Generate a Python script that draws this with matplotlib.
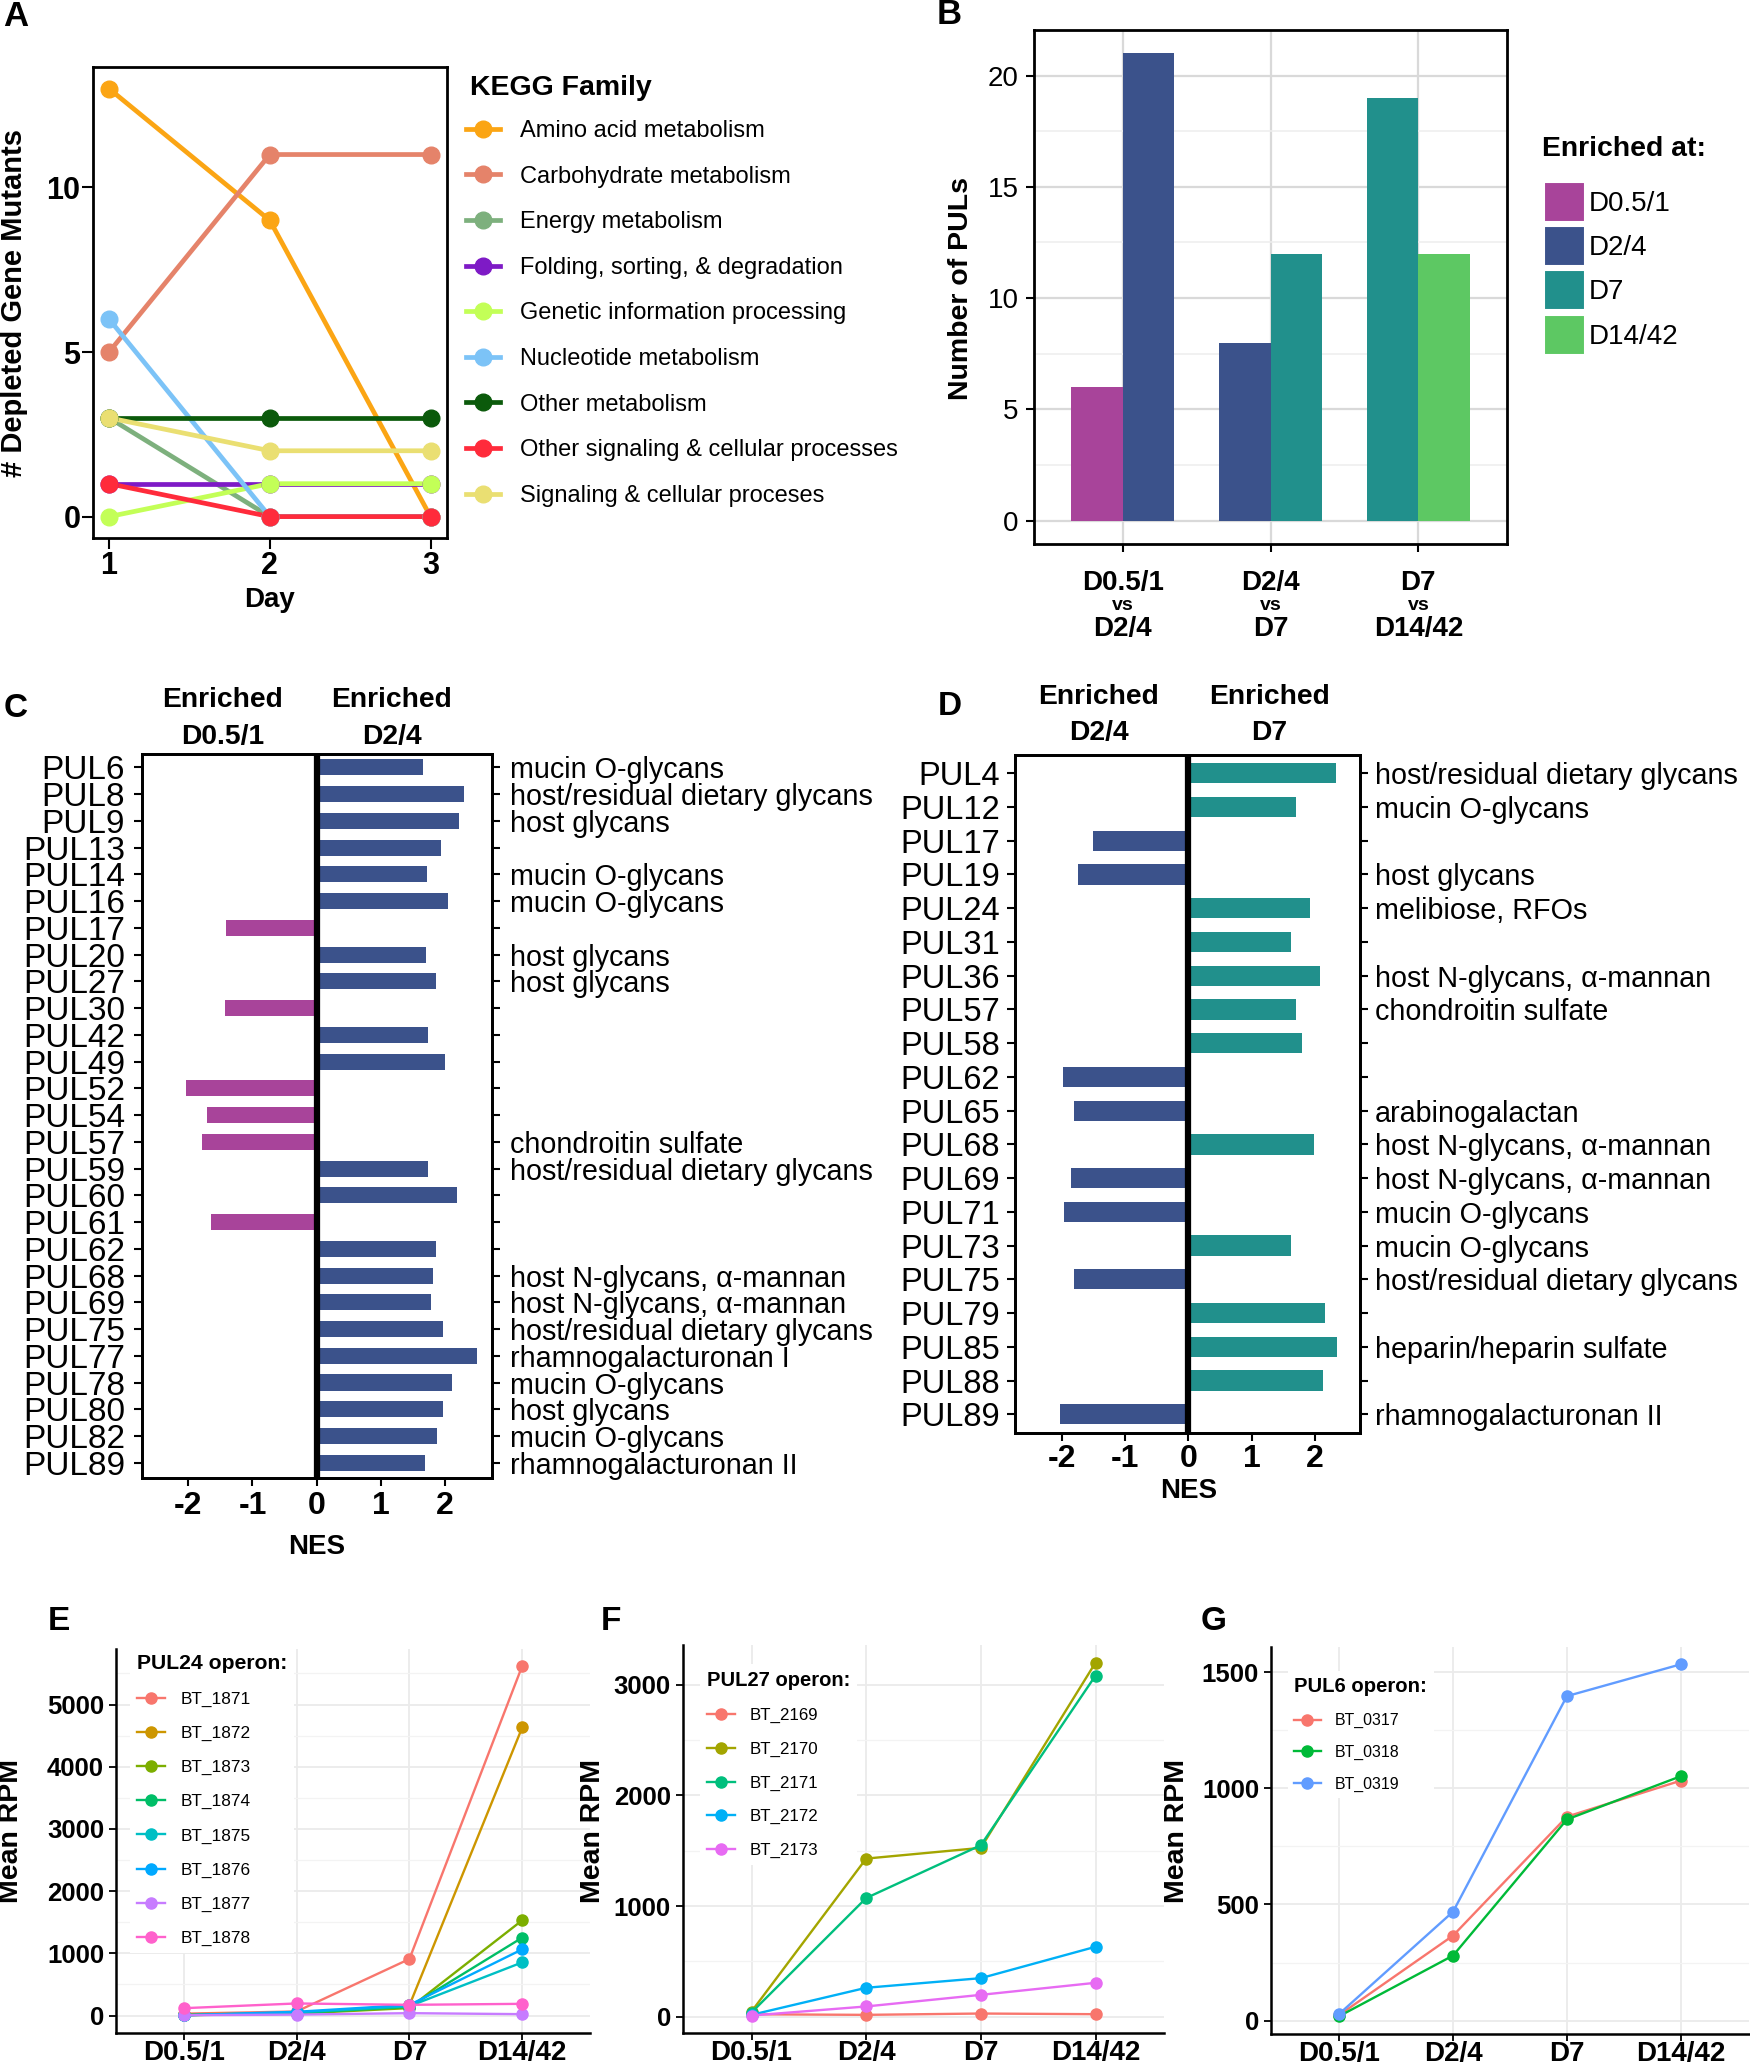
import numpy as np
import matplotlib
matplotlib.use("Agg")
import matplotlib.pyplot as plt
from matplotlib.lines import Line2D
from matplotlib.patches import Patch
from matplotlib.ticker import MultipleLocator

plt.rcParams["font.family"] = ["Liberation Sans", "DejaVu Sans"]
plt.rcParams["axes.unicode_minus"] = False

# ---------------- data ----------------
# A: KEGG families of depleted gene mutants
days = [1, 2, 3]
kegg_families = ["Amino acid metabolism", "Carbohydrate metabolism", "Energy metabolism",
                 "Folding, sorting, & degradation", "Genetic information processing",
                 "Nucleotide metabolism", "Other metabolism",
                 "Other signaling & cellular processes", "Signaling & cellular proceses"]
kegg_counts = [[13, 9, 0], [5, 11, 11], [3, 0, 0], [1, 1, 1], [0, 1, 1],
               [6, 0, 0], [3, 3, 3], [1, 0, 0], [3, 2, 2]]
kegg_colors = ["#FBA514", "#E5836A", "#7DB07D", "#7E1AC6", "#C3FF57",
               "#7CC3F7", "#0B5A0B", "#FF2B3B", "#EADF72"]

# B: number of enriched PULs per comparison
comparisons = [("D0.5/1", "D2/4"), ("D2/4", "D7"), ("D7", "D14/42")]
enriched_groups = ["D0.5/1", "D2/4", "D7", "D14/42"]
group_colors = ["#A8449A", "#3B528B", "#21908C", "#5DC863"]
puls_early = [6, 8, 19]
puls_late = [21, 12, 12]

# C: D0.5/1 vs D2/4
c_puls = ["PUL6", "PUL8", "PUL9", "PUL13", "PUL14", "PUL16", "PUL17", "PUL20", "PUL27",
          "PUL30", "PUL42", "PUL49", "PUL52", "PUL54", "PUL57", "PUL59", "PUL60", "PUL61",
          "PUL62", "PUL68", "PUL69", "PUL75", "PUL77", "PUL78", "PUL80", "PUL82", "PUL89"]
c_nes = [1.66, 2.30, 2.22, 1.94, 1.72, 2.05, -1.41, 1.71, 1.86, -1.43, 1.73, 2.00,
         -2.04, -1.71, -1.79, 1.73, 2.18, -1.64, 1.86, 1.81, 1.78, 1.96, 2.50, 2.11,
         1.97, 1.87, 1.69]
c_glycans = ["mucin O-glycans", "host/residual dietary glycans", "host glycans", "",
             "mucin O-glycans", "mucin O-glycans", "", "host glycans", "host glycans",
             "", "", "", "", "", "chondroitin sulfate", "host/residual dietary glycans",
             "", "", "", "host N-glycans, α-mannan", "host N-glycans, α-mannan",
             "host/residual dietary glycans", "rhamnogalacturonan I", "mucin O-glycans",
             "host glycans", "mucin O-glycans", "rhamnogalacturonan II"]

# D: D2/4 vs D7
d_puls = ["PUL4", "PUL12", "PUL17", "PUL19", "PUL24", "PUL31", "PUL36", "PUL57", "PUL58",
          "PUL62", "PUL65", "PUL68", "PUL69", "PUL71", "PUL73", "PUL75", "PUL79", "PUL85",
          "PUL88", "PUL89"]
d_nes = [2.32, 1.70, -1.51, -1.75, 1.92, 1.62, 2.08, 1.70, 1.79, -1.98, -1.81, 1.98,
         -1.85, -1.96, 1.61, -1.80, 2.16, 2.35, 2.12, -2.02]
d_glycans = ["host/residual dietary glycans", "mucin O-glycans", "", "host glycans",
             "melibiose, RFOs", "", "host N-glycans, α-mannan", "chondroitin sulfate", "",
             "", "arabinogalactan", "host N-glycans, α-mannan", "host N-glycans, α-mannan",
             "mucin O-glycans", "mucin O-glycans", "host/residual dietary glycans", "",
             "heparin/heparin sulfate", "", "rhamnogalacturonan II"]

# E-G: operon expression
timepoints = ["D0.5/1", "D2/4", "D7", "D14/42"]
pul24_genes = ["BT_1871", "BT_1872", "BT_1873", "BT_1874", "BT_1875", "BT_1876", "BT_1877", "BT_1878"]
pul24_rpm = [[30, 65, 909, 5624], [20, 40, 165, 4634], [5, 30, 120, 1532], [5, 40, 140, 1253],
             [5, 50, 150, 855], [5, 60, 170, 1065], [5, 15, 38, 22], [118, 194, 172, 188]]
pul24_colors = ["#F8766D", "#CD9600", "#7CAE00", "#00BE67", "#00BFC4", "#00A9FF", "#C77CFF", "#FF61CC"]

pul27_genes = ["BT_2169", "BT_2170", "BT_2171", "BT_2172", "BT_2173"]
pul27_rpm = [[20, 15, 27, 21], [45, 1429, 1526, 3202], [36, 1072, 1550, 3085],
             [15, 260, 347, 631], [9, 91, 196, 305]]
pul27_colors = ["#F8766D", "#A3A500", "#00BF7D", "#00B0F6", "#E76BF3"]

pul6_genes = ["BT_0317", "BT_0318", "BT_0319"]
pul6_rpm = [[24, 366, 878, 1033], [19, 280, 866, 1052], [29, 469, 1397, 1534]]
pul6_colors = ["#F8766D", "#00BA38", "#619CFF"]

# ---------------- figure ----------------
W, H = 1750, 2067
fig = plt.figure(figsize=(W / 100, H / 100), dpi=100)


def axes_px(left, top, right, bottom):
    return fig.add_axes([left / W, 1 - bottom / H, (right - left) / W, (bottom - top) / H])


def ftext(x, y, s, **kw):
    kw.setdefault("ha", "center")
    kw.setdefault("va", "center")
    return fig.text(x / W, 1 - y / H, s, **kw)


# ---- A ----
axA = axes_px(93, 67.3, 446.6, 538)
for counts, col in zip(kegg_counts, kegg_colors):
    axA.plot(days, counts, color=col, lw=3.4, zorder=2)
for counts, col in zip(kegg_counts, kegg_colors):
    axA.plot(days, counts, ls="none", marker="o", ms=12, color=col, zorder=3)
axA.set_xlim(0.9, 3.1)
axA.set_ylim(-0.65, 13.65)
axA.set_xticks(days)
axA.set_yticks([0, 5, 10])
axA.tick_params(labelsize=22, width=1.5, length=8, pad=1)
for lab in axA.get_xticklabels() + axA.get_yticklabels():
    lab.set_fontweight("bold")
for s in axA.spines.values():
    s.set_linewidth(2)
ftext(14.4, 303, "# Depleted Gene Mutants", rotation=90, fontsize=21, fontweight="bold")
ftext(269.8, 600, "Day", fontsize=20, fontweight="bold")
handlesA = [Line2D([], [], color=c, lw=3.4, marker="o", ms=12) for c in kegg_colors]
axA.legend(handlesA, kegg_families, loc="upper left", bbox_to_anchor=(466 / W, 1 - 120 / H),
           bbox_transform=fig.transFigure, frameon=False, borderpad=0, borderaxespad=0,
           fontsize=17, handlelength=1.44, handletextpad=0.83, labelspacing=1.0)
ftext(469.6, 88, "KEGG Family", fontsize=20.5, fontweight="bold", ha="left")
ftext(16, 17, "A", fontsize=25, fontweight="bold")

# ---- B ----
axB = axes_px(1034, 30, 1507, 544)
xb = np.arange(1, 4)
bw = 0.35
axB.bar(xb - bw / 2, puls_early, bw, color=group_colors[0:3], zorder=2)
axB.bar(xb + bw / 2, puls_late, bw, color=group_colors[1:4], zorder=2)
axB.set_xlim(0.4, 3.6)
axB.set_ylim(-1.05, 22.05)
axB.set_yticks([0, 5, 10, 15, 20])
axB.yaxis.set_minor_locator(MultipleLocator(2.5))
axB.set_xticks(xb)
axB.set_xticklabels([])
axB.grid(which="major", color="#D9D9D9", lw=1.6)
axB.grid(which="minor", axis="y", color="#EDEDED", lw=1.1)
axB.set_axisbelow(True)
axB.tick_params(which="minor", length=0)
axB.tick_params(which="major", labelsize=20, width=1.5, length=6, pad=5)
for s in axB.spines.values():
    s.set_linewidth(2)
for xi, (a, b) in zip(xb, comparisons):
    px = 1034 + (xi - 0.4) / 3.2 * (1507 - 1034)
    ftext(px, 583, a, fontsize=20, fontweight="bold")
    ftext(px, 606, "vs", fontsize=14, fontweight="bold")
    ftext(px, 629, b, fontsize=20, fontweight="bold")
ftext(961, 288, "Number of PULs", rotation=90, fontsize=20.5, fontweight="bold")
handlesB = [Patch(facecolor=c, edgecolor="white", lw=1.5) for c in group_colors]
axB.legend(handlesB, enriched_groups, loc="upper left", bbox_to_anchor=(1544 / W, 1 - 182 / H),
           bbox_transform=fig.transFigure, frameon=False, borderpad=0, borderaxespad=0,
           fontsize=20, handlelength=1.47, handleheight=1.84, handletextpad=0.15,
           labelspacing=0.15)
ftext(1542, 149, "Enriched at:", fontsize=20.4, fontweight="bold", ha="left")
ftext(949, 14, "B", fontsize=25, fontweight="bold")


# ---- C & D ----
def nes_panel(box, puls, nes, glycans, neg_col, pos_col, lims, left_fs, pads):
    ax = axes_px(*box)
    y = np.arange(len(puls))
    cols = [pos_col if v > 0 else neg_col for v in nes]
    ax.barh(y, nes, height=0.6, color=cols, zorder=2)
    ax.axvline(0, color="black", lw=4.5, zorder=3)
    ax.set_xlim(*lims[0])
    ax.set_ylim(*lims[1])
    ax.set_yticks(y, puls)
    ax.set_xticks([-2, -1, 0, 1, 2])
    ax.tick_params(axis="y", labelsize=left_fs, width=1.5, length=6, pad=pads[0])
    ax.tick_params(axis="x", labelsize=23, width=1.5, length=6, pad=pads[2])
    for lab in ax.get_xticklabels():
        lab.set_fontweight("bold")
    axr = ax.twinx()
    axr.set_ylim(*lims[1])
    axr.set_yticks(y, glycans)
    axr.tick_params(axis="y", labelsize=20.7, width=1.5, length=6, pad=pads[1])
    for a in (ax, axr):
        for s in a.spines.values():
            s.set_linewidth(2)
    return ax


nes_panel((142, 753.7, 492, 1478), c_puls, c_nes, c_glycans, group_colors[0], group_colors[1],
          [(-2.72, 2.73), (len(c_puls) - 1 + 0.57, -0.51)], 24, (6.3, 6.8, 3))
ftext(222.7, 700, "Enriched", fontsize=20.3, fontweight="bold")
ftext(391.5, 700, "Enriched", fontsize=20.3, fontweight="bold")
ftext(222.7, 737, "D0.5/1", fontsize=20.3, fontweight="bold")
ftext(391.5, 737, "D2/4", fontsize=20.3, fontweight="bold")
ftext(316.6, 1547, "NES", fontsize=20, fontweight="bold")
ftext(16, 708, "C", fontsize=24, fontweight="bold")

nes_panel((1015.4, 754.7, 1359.6, 1432.7), d_puls, d_nes, d_glycans, group_colors[1], group_colors[2],
          [(-2.73, 2.70), (len(d_puls) - 1 + 0.545, -0.55)], 23.5, (5, 5, 2))
ftext(1098.6, 697, "Enriched", fontsize=20.3, fontweight="bold")
ftext(1269.4, 697, "Enriched", fontsize=20.3, fontweight="bold")
ftext(1098.6, 733, "D2/4", fontsize=20.3, fontweight="bold")
ftext(1269.4, 733, "D7", fontsize=20.3, fontweight="bold")
ftext(1188.4, 1491, "NES", fontsize=20, fontweight="bold")
ftext(949.5, 707, "D", fontsize=24, fontweight="bold")


# ---- E, F, G ----
def rpm_panel(box, genes, rpm, colors, title, ylim, major, leg, fsz):
    ax = axes_px(*box)
    x = np.arange(1, 5)
    for vals, c, g in zip(rpm, colors, genes):
        ax.plot(x, vals, color=c, lw=1.7, marker="o", ms=8, label=g)
    ax.set_xlim(0.4, 4.6)
    ax.set_ylim(*ylim)
    ax.set_xticks(x, timepoints)
    ax.yaxis.set_major_locator(MultipleLocator(major))
    ax.yaxis.set_minor_locator(MultipleLocator(major / 2))
    ax.grid(which="major", color="#EBEBEB", lw=1.3)
    ax.grid(which="minor", axis="y", color="#F3F3F3", lw=0.9)
    ax.set_axisbelow(True)
    ax.tick_params(which="minor", length=0)
    ax.tick_params(axis="y", labelsize=18.5, width=1.3, length=5, pad=3.6)
    ax.tick_params(axis="x", labelsize=20, width=1.3, length=5, pad=0)
    for lab in ax.get_xticklabels() + ax.get_yticklabels():
        lab.set_fontweight("bold")
    for side in ("top", "right"):
        ax.spines[side].set_visible(False)
    for side in ("left", "bottom"):
        ax.spines[side].set_linewidth(1.8)
    ax.legend(loc="upper left", bbox_to_anchor=(leg[0] / W, 1 - leg[1] / H),
              bbox_transform=fig.transFigure, frameon=True, facecolor="white",
              edgecolor="none", framealpha=1, fancybox=False, borderpad=0.4,
              borderaxespad=0, fontsize=fsz[0], handlelength=1.66, handletextpad=0.89,
              labelspacing=leg[2], title=title,
              title_fontproperties={"weight": "bold", "size": fsz[1]}, alignment="left")
    return ax


rpm_panel((116, 1648.6, 590, 2033), pul24_genes, pul24_rpm, pul24_colors, "PUL24 operon:",
          (-281, 5900), 1000, (130, 1647, 1.1), (12.4, 15.2))
rpm_panel((682.7, 1645.2, 1164.3, 2033.2), pul27_genes, pul27_rpm, pul27_colors, "PUL27 operon:",
          (-151, 3360), 1000, (700, 1664, 1.09), (12.2, 14.5))
rpm_panel((1271, 1646.9, 1749, 2033.8), pul6_genes, pul6_rpm, pul6_colors, "PUL6 operon:",
          (-57, 1609), 500, (1288, 1671, 1.06), (11.4, 14.6))
for xl, xt, letter in [(11.5, 59, "E"), (593.4, 610.5, "F"), (1177, 1214, "G")]:
    ftext(xl, 1831, "Mean RPM", rotation=90, fontsize=20.5, fontweight="bold")
    ftext(xt, 1622, letter, fontsize=24, fontweight="bold")

fig.savefig("out.png", dpi=100)
